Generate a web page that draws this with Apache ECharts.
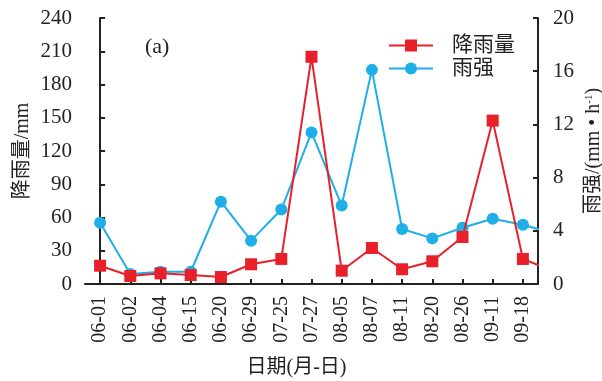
<!DOCTYPE html>
<html>
<head>
<meta charset="utf-8">
<script src="https://cdn.jsdelivr.net/npm/echarts@6/dist/echarts.min.js"></script>
<style>
  html, body { margin: 0; padding: 0; background: #fff; }
  #chart { width: 602px; height: 381px; }
</style>
</head>
<body>
<div id="chart"></div>
<script>
// Observation dates (month-day)
var dates = ['06-01', '06-02', '06-04', '06-15', '06-20', '06-29', '07-25', '07-27',
             '08-05', '08-07', '08-11', '08-20', '08-26', '09-11', '09-18'];
// Rainfall (mm); the last value belongs to the next event, drawn beyond the axis edge
var rainfall = [16.5, 7.2, 9.6, 8.1, 6.3, 17.8, 22.6, 205, 12, 32.5, 13.3, 20.5, 42.4, 147.4, 22.6, 11.6];
// Rain intensity (mm/h)
var intensity = [4.61, 0.75, 0.92, 0.92, 6.19, 3.26, 5.6, 11.4, 5.9, 16.1, 4.14, 3.43, 4.23, 4.91, 4.46, 3.8];
// Axis ticks
var leftTicks = [0, 30, 60, 90, 120, 150, 180, 210, 240];
var rightTicks = [0, 4, 8, 12, 16, 20];

var serif = 'Liberation Serif, Noto Sans CJK SC, serif';
var red = '#e8202a';
var blue = '#1eaee8';

function pairs(arr) {
  return arr.map(function (v, i) { return [i, v]; });
}

var chart = echarts.init(document.getElementById('chart'), null, { renderer: 'canvas' });

var axisLine = { show: true, lineStyle: { color: '#222', width: 2 } };
var axisTick = { show: true, inside: true, length: 5, lineStyle: { color: '#222', width: 2 } };

chart.setOption({
  animation: false,
  backgroundColor: '#fff',
  textStyle: { fontFamily: serif },
  grid: { left: 85, right: 64, top: 18, bottom: 97, containLabel: false, outerBoundsMode: 'none' },
  legend: {
    orient: 'vertical',
    right: 82,
    top: 30,
    itemWidth: 44,
    itemHeight: 15,
    itemGap: 2,
    textStyle: { fontFamily: serif, fontSize: 21, color: '#222', padding: [0, 0, 0, 14] },
    data: ['降雨量', '雨强']
  },
  graphic: [{
    type: 'text',
    left: 145,
    top: 36,
    style: { text: '(a)', fontFamily: serif, fontSize: 22, fill: '#222' }
  }],
  xAxis: [{
    type: 'category',
    data: dates,
    boundaryGap: true,
    axisLine: axisLine,
    axisTick: { show: true, inside: true, length: 5, alignWithLabel: true, lineStyle: { color: '#222', width: 2 } },
    axisLabel: { rotate: 90, margin: 12, fontFamily: serif, fontSize: 20, color: '#222' },
    name: '日期(月-日)',
    nameLocation: 'middle',
    nameGap: 74,
    nameMoveOverlap: false,
    nameTextStyle: { fontFamily: serif, fontSize: 20, color: '#222', padding: [0, 30, 0, 0] },
    splitLine: { show: false }
  }, {
    type: 'value',
    show: false,
    min: -0.5,
    max: dates.length - 0.5,
    splitLine: { show: false }
  }],
  yAxis: [{
    type: 'value',
    position: 'left',
    min: leftTicks[0],
    max: leftTicks[leftTicks.length - 1],
    interval: leftTicks[1] - leftTicks[0],
    axisLine: axisLine,
    axisTick: axisTick,
    axisLabel: { margin: 13, fontFamily: serif, fontSize: 21, color: '#222' },
    splitLine: { show: false },
    name: '降雨量/mm',
    nameLocation: 'middle',
    nameRotate: 90,
    nameGap: 52,
    nameMoveOverlap: false,
    nameTextStyle: { fontFamily: serif, fontSize: 20, color: '#222' }
  }, {
    type: 'value',
    position: 'right',
    min: rightTicks[0],
    max: rightTicks[rightTicks.length - 1],
    interval: rightTicks[1] - rightTicks[0],
    axisLine: axisLine,
    axisTick: axisTick,
    axisLabel: { margin: 15, fontFamily: serif, fontSize: 21, color: '#222' },
    splitLine: { show: false },
    name: '雨强/(mm • h{sup|-1})',
    nameLocation: 'middle',
    nameRotate: 90,
    nameGap: 46,
    nameMoveOverlap: false,
    nameTextStyle: {
      fontFamily: serif, fontSize: 20, color: '#222',
      rich: { sup: { fontFamily: serif, fontSize: 11, color: '#222', padding: [0, 0, 9, 0] } }
    }
  }],
  series: [{
    name: '降雨量',
    type: 'line',
    xAxisIndex: 1,
    yAxisIndex: 0,
    data: pairs(rainfall),
    symbol: 'rect',
    symbolSize: 12,
    clip: true,
    lineStyle: { color: red, width: 2 },
    itemStyle: { color: red },
    z: 3
  }, {
    name: '雨强',
    type: 'line',
    xAxisIndex: 1,
    yAxisIndex: 1,
    data: pairs(intensity),
    symbol: 'circle',
    symbolSize: 12,
    clip: true,
    lineStyle: { color: blue, width: 2 },
    itemStyle: { color: blue },
    z: 2
  }]
});
</script>
</body>
</html>
